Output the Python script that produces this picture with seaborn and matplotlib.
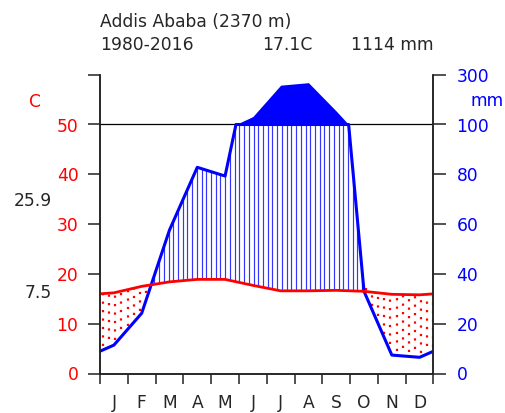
import numpy as np
import pandas as pd
import matplotlib
matplotlib.use("Agg")
import matplotlib.pyplot as plt
import matplotlib.transforms as mtransforms
import seaborn as sns

# Monthly climate normals, Addis Ababa 1980-2016
months = ["J", "F", "M", "A", "M", "J", "J", "A", "S", "O", "N", "D"]
temp_c = [16.2, 17.5, 18.4, 18.9, 18.9, 17.7, 16.6, 16.6, 16.7, 16.5, 15.9, 15.8]
precip_mm = [11.4, 24.2, 57.6, 82.8, 79.3, 132, 258, 268, 154, 33, 7.4, 6.5]

station = "Addis Ababa (2370 m)"
period = "1980-2016"
mean_temp_text = "17.1C"
annual_precip_text = "1114 mm"
max_warm_text = "25.9"
min_cold_text = "7.5"
temp_ticks = [0, 10, 20, 30, 40, 50, 60]
temp_tick_labels = ["0", "10", "20", "30", "40", "50", ""]
precip_tick_labels = ["0", "20", "40", "60", "80", "100", "300"]

sns.set_style("ticks")
plt.rcParams["font.family"] = ["DejaVu Sans"]
plt.rcParams["font.size"] = 12.3

# month centres plus the two edges (mean of Dec and Jan)
t = np.array(temp_c)
p = np.array(precip_mm, dtype=float)
x = np.r_[0, np.arange(12) + 0.5, 12]
t_ext = np.r_[(t[-1] + t[0]) / 2, t, (t[-1] + t[0]) / 2]
p_ext = np.r_[(p[-1] + p[0]) / 2, p, (p[-1] + p[0]) / 2]

# add the points where precipitation crosses 100 mm
xs, ps = [x[0]], [p_ext[0]]
for i in range(1, len(x)):
    p0, p1 = p_ext[i - 1], p_ext[i]
    if (p0 - 100) * (p1 - 100) < 0:
        xs.append(x[i - 1] + (100 - p0) / (p1 - p0) * (x[i] - x[i - 1]))
        ps.append(100.0)
    xs.append(x[i])
    ps.append(p_ext[i])
xs = np.array(xs)
ps = np.array(ps)
p_low = np.minimum(ps, 100) / 2          # 2 mm per degree below 100 mm
p_high = 50 + (ps - 100) / 20            # 20 mm per degree above 100 mm

fig = plt.figure(figsize=(5.06, 4.13), dpi=100)
ax = fig.add_axes([100 / 506, (413 - 373.5) / 413, 333.5 / 506, 298.8 / 413])

# humid period: vertical blue lines, dry period: red dotted lines
gx = np.arange(0.085, 12, 0.17)
tg = np.interp(gx, x, t_ext)
pg = np.interp(gx, xs, p_low)
wet = pg > tg
ax.vlines(gx[wet], tg[wet], pg[wet], color="#3535ff", lw=0.85, zorder=1)

rx = np.arange(0.11, 12, 0.22)
tr = np.interp(rx, x, t_ext)
pr = np.interp(rx, xs, p_low)
dry = tr > pr
shift = 0.8 + (np.arange(len(rx)) % 2) * 0.8
ax.vlines(rx[dry], (pr + shift)[dry], tr[dry], color="red", lw=1.6,
          linestyles=(0, (1, 2.8)), zorder=1)

ax.axhline(50, color="black", lw=0.9, zorder=2)
ax.fill_between(xs, 50, p_high, where=ps >= 100, color="blue", lw=0, zorder=3)

df_t = pd.DataFrame({"x": x, "temp": t_ext})
df_p = pd.DataFrame({"x": xs, "prec": p_low})
sns.lineplot(data=df_p, x="x", y="prec", color="blue", lw=2.2, ax=ax, zorder=4)
sns.lineplot(data=df_t, x="x", y="temp", color="red", lw=2, ax=ax, zorder=5)

ax.set_xlim(0, 12)
ax.set_ylim(0, 60)
ax.set_xlabel("")
ax.set_ylabel("")
ax.set_xticks(range(13))
ax.set_xticklabels([])
ax.set_xticks(np.arange(12) + 0.5, minor=True)
ax.set_xticklabels(months, minor=True)
ax.tick_params(axis="x", which="major", length=7, width=1.1, color="#222222")
ax.tick_params(axis="x", which="minor", length=0, pad=14.5)
ax.set_yticks(temp_ticks)
ax.set_yticklabels(temp_tick_labels)
ax.tick_params(axis="y", length=9, width=1.1, color="#222222", pad=6.5,
               labelcolor="red")

ax2 = ax.twinx()
ax2.set_ylim(0, 60)
ax2.set_yticks(temp_ticks)
ax2.set_yticklabels(precip_tick_labels)
ax2.tick_params(axis="y", length=9, width=1.1, color="#222222", pad=7.5,
                labelcolor="blue")

for a in (ax, ax2):
    a.spines["top"].set_visible(False)
    for s in ("left", "right", "bottom"):
        a.spines[s].set_color("#222222")
        a.spines[s].set_linewidth(1.1)

tr_ax = ax.transAxes
ax.text(0, 1.16, station, transform=tr_ax, ha="left", va="baseline")
ax.text(0, 1.083, period, transform=tr_ax, ha="left", va="baseline")
ax.text(0.636, 1.083, mean_temp_text, transform=tr_ax, ha="right", va="baseline")
ax.text(1.0, 1.083, annual_precip_text, transform=tr_ax, ha="right", va="baseline")

blend = mtransforms.blended_transform_factory(ax.transAxes, ax.transData)
ax.text(-0.195, 54.6, "C", transform=blend, ha="center", va="center", color="red")
ax.text(-0.144, 34.7, max_warm_text, transform=blend, ha="right", va="center")
ax.text(-0.144, 16.1, min_cold_text, transform=blend, ha="right", va="center")
ax.text(1.16, 54.7, "mm", transform=blend, ha="center", va="center", color="blue")

fig.savefig("out.png", dpi=100)
